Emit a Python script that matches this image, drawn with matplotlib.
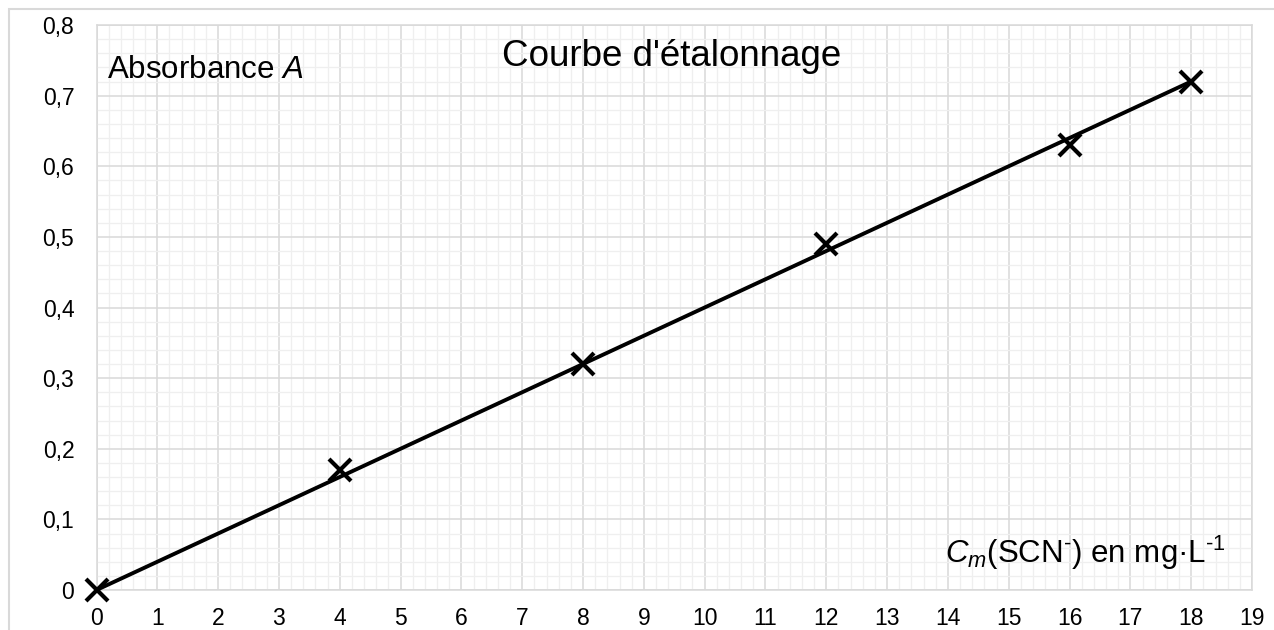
import numpy as np
import matplotlib
matplotlib.use("Agg")
import matplotlib.pyplot as plt
from matplotlib.patches import Rectangle
from matplotlib.ticker import MultipleLocator, FuncFormatter

plt.rcParams['font.family'] = ['Liberation Sans', 'DejaVu Sans']
plt.rcParams['mathtext.fontset'] = 'custom'
plt.rcParams['mathtext.rm'] = 'Liberation Sans'
plt.rcParams['mathtext.it'] = 'Liberation Sans:italic'

# calibration data
concentration = [0, 4, 8, 12, 16, 18]          # mg/L
absorbance = [0.0, 0.17, 0.32, 0.49, 0.63, 0.72]

# linear trendline through the origin
x = np.array(concentration, dtype=float)
y = np.array(absorbance)
slope = np.sum(x * y) / np.sum(x * x)

fig = plt.figure(figsize=(12.74, 6.3), dpi=100)
ax = fig.add_axes([96.5 / 1274, 40 / 630, (1252 - 96.5) / 1274, (590 - 25) / 630])

# light chart frame
fig.patches.append(Rectangle((9 / 1274, -0.05), 1.1, 1 - 9 / 630 + 0.05,
                             transform=fig.transFigure, fill=False,
                             edgecolor='#d9d9d9', linewidth=1.5))

ax.set_xlim(0, 19)
ax.set_ylim(0, 0.8)
ax.xaxis.set_major_locator(MultipleLocator(1))
ax.xaxis.set_minor_locator(MultipleLocator(0.2))
ax.yaxis.set_major_locator(MultipleLocator(0.1))
ax.yaxis.set_minor_locator(MultipleLocator(0.02))
ax.yaxis.set_major_formatter(FuncFormatter(lambda v, p: ('%g' % round(v, 2)).replace('.', ',')))

ax.grid(which='minor', color='#efefef', linewidth=0.9)
ax.grid(which='major', color='#d9d9d9', linewidth=1.1)
ax.set_axisbelow(True)
for s in ax.spines.values():
    s.set_color('#d9d9d9')
    s.set_linewidth(1.1)
ax.tick_params(which='both', length=0)
ax.tick_params(axis='x', labelsize=16.5, pad=12)
ax.tick_params(axis='y', labelsize=16.5, pad=16)

xs = np.array([0, max(concentration)])
ax.plot(xs, slope * xs, color='black', linewidth=2.8, clip_on=False, zorder=3)
ax.plot(concentration, absorbance, linestyle='none', marker='x', color='black',
        markersize=15.5, markeredgewidth=3.0, clip_on=False, zorder=4)

ax.text(0.0095, 0.92, 'Absorbance $A$', transform=ax.transAxes, fontsize=22.5,
        va='center', ha='left')
ax.text(0.498, 0.945, "Courbe d'étalonnage", transform=ax.transAxes, fontsize=26.5,
        va='center', ha='center')
ax.text(0.977, 0.065, r'$C_m$(SCN$^{\text{-}}$) en mg·L$^{\text{-}1}$', transform=ax.transAxes,
        fontsize=22.5, va='center', ha='right')

fig.savefig('out.png', dpi=100)
